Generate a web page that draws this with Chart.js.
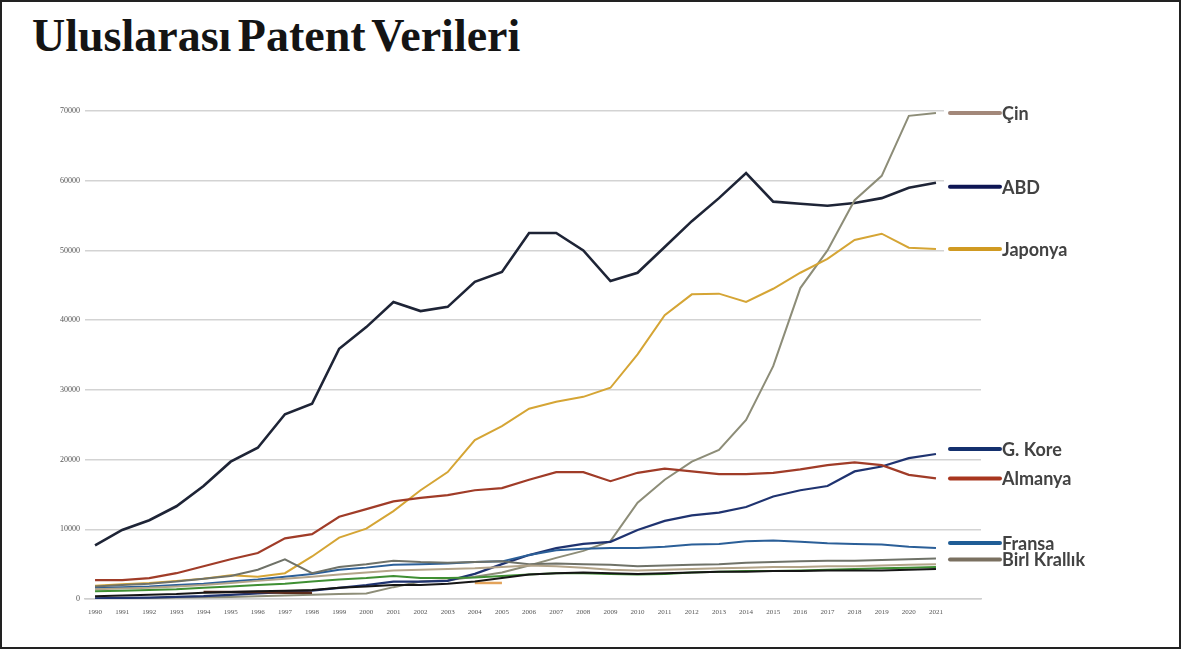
<!DOCTYPE html>
<html lang="tr">
<head>
<meta charset="utf-8">
<title>Uluslarası Patent Verileri</title>
<script src="https://cdn.jsdelivr.net/npm/chart.js@4/dist/chart.umd.min.js"></script>
<style>
  html, body { margin: 0; padding: 0; background: #fff; }
  body { width: 1181px; height: 649px; position: relative; overflow: hidden; }
  .cerceve {
    position: absolute; left: 0; top: 0; width: 1177px; height: 645px;
    border: 2px solid #222;
  }
  h1 {
    position: absolute; left: 32px; top: 9px; margin: 0;
    font: bold 46px 'Liberation Serif', serif; color: #141414;
    word-spacing: -5px;
  }
  #grafik { position: absolute; left: 0; top: 0; }
</style>
</head>
<body>
<div class="cerceve"></div>
<h1>Uluslarası Patent Verileri</h1>
<canvas id="grafik" width="1181" height="649"></canvas>
<script>
const yillar = [1990, 1991, 1992, 1993, 1994, 1995, 1996, 1997, 1998, 1999, 2000, 2001, 2002, 2003, 2004, 2005,
  2006, 2007, 2008, 2009, 2010, 2011, 2012, 2013, 2014, 2015, 2016, 2017, 2018, 2019, 2020, 2021]

const abd = [7700, 9900, 11300, 13300, 16200, 19700, 21700, 26500, 28000, 35900, 39000, 42600, 41300, 41900, 45500, 46900,
  52500, 52500, 50000, 45600, 46800, 50500, 54200, 57500, 61100, 57000, 56700, 56400, 56800, 57500, 59000, 59700]
const japonya = [1900, 2100, 2300, 2600, 2900, 3400, 3200, 3700, 6100, 8800, 10100, 12600, 15600, 18200, 22800, 24800,
  27300, 28300, 29000, 30300, 35100, 40700, 43700, 43800, 42600, 44500, 46800, 48800, 51500, 52400, 50400, 50200]
const cin = [100, 100, 150, 200, 250, 300, 400, 500, 600, 700, 800, 1700, 2500, 2700, 3200, 3800,
  4800, 5900, 6900, 8300, 13800, 17100, 19700, 21400, 25700, 33400, 44600, 50000, 57200, 60700, 69300, 69700]
const gKore = [100, 150, 200, 300, 400, 600, 800, 1000, 1200, 1600, 2000, 2500, 2500, 2600, 3600, 5000,
  6300, 7300, 7900, 8200, 9900, 11200, 12000, 12400, 13200, 14700, 15600, 16200, 18300, 19000, 20200, 20800]
const almanya = [2700, 2700, 3000, 3700, 4700, 5700, 6600, 8700, 9300, 11800, 12900, 14000, 14500, 14900, 15600, 15900,
  17100, 18200, 18200, 16900, 18100, 18700, 18300, 17900, 17900, 18100, 18600, 19200, 19600, 19200, 17800, 17300]
const fransa = [1600, 1700, 1800, 2000, 2200, 2500, 2800, 3200, 3600, 4200, 4500, 4900, 5000, 5100, 5300, 5400,
  6300, 7000, 7200, 7300, 7300, 7500, 7800, 7900, 8300, 8400, 8200, 8000, 7900, 7800, 7500, 7300]
const birlesikKrallik = [1800, 2000, 2200, 2500, 2900, 3300, 4200, 5700, 3700, 4600, 5000, 5500, 5300, 5200, 5300, 5400,
  5000, 5100, 5000, 4900, 4700, 4800, 4900, 5000, 5200, 5300, 5400, 5500, 5500, 5600, 5700, 5800]

// etiketsiz alt seriler
const hollanda = [1400, 1500, 1600, 1800, 2000, 2300, 2600, 2900, 3200, 3500, 3800, 4100, 4200, 4300, 4400, 4600,
  4800, 4700, 4500, 4200, 4100, 4200, 4300, 4400, 4500, 4600, 4600, 4700, 4700, 4800, 4900, 5000]
const isvicre = [1100, 1200, 1300, 1400, 1600, 1800, 2000, 2200, 2500, 2800, 3000, 3300, 3000, 3000, 3100, 3300,
  3500, 3700, 3700, 3600, 3500, 3600, 3800, 3900, 4000, 4000, 4100, 4200, 4300, 4400, 4500, 4600]
const isvec = [400, 500, 600, 700, 900, 1000, 1100, 1200, 1300, 1600, 1800, 2000, 2000, 2200, 2500, 3000,
  3500, 3700, 3800, 3700, 3600, 3700, 3800, 3900, 3900, 4000, 4000, 4100, 4100, 4100, 4200, 4300]
const kisaSeriA = [null, null, null, null, 1000, 1000, 1000, 900, 900, null, null, null, null, null, null, null,
  null, null, null, null, null, null, null, null, null, null, null, null, null, null, null, null]
const kisaSeriB = [null, null, null, null, null, null, null, null, null, null, null, null, null, null, 2300, 2300,
  null, null, null, null, null, null, null, null, null, null, null, null, null, null, null, null]

const yTikler = [0, 10000, 20000, 30000, 40000, 50000, 60000, 70000]

const noktalar = (dizi) => dizi.map((v, i) => ({ x: yillar[i], y: v }))

function seri(label, dizi, renk, genislik, ekstra) {
  return Object.assign({
    label: label,
    data: noktalar(dizi),
    borderColor: renk,
    borderWidth: genislik,
    pointRadius: 0,
    fill: false,
    tension: 0,
    spanGaps: false,
  }, ekstra || {})
}

// sağdaki etiketler: her serinin son değerinin hizasında
const yanEtiketler = {
  id: 'yanEtiketler',
  afterDatasetsDraw(chart) {
    const { ctx, chartArea, scales: { y } } = chart
    const x0 = chartArea.right - 31
    ctx.save()
    ctx.font = 'bold 18px Lato'
    ctx.textBaseline = 'middle'
    chart.data.datasets.forEach((ds) => {
      if (!ds.etiket) return
      const son = ds.data[ds.data.length - 1].y
      const yPx = y.getPixelForValue(son) + (ds.kaydir || 0)
      const w = ctx.measureText(ds.etiket).width
      ctx.fillStyle = '#fff'
      ctx.fillRect(x0 - 6, yPx - 9, 60 + w, 18)
      ctx.strokeStyle = ds.etiketRenk || ds.borderColor
      ctx.lineWidth = 4
      ctx.lineCap = 'round'
      ctx.beginPath()
      ctx.moveTo(x0, yPx)
      ctx.lineTo(x0 + 50, yPx)
      ctx.stroke()
      ctx.fillStyle = '#424242'
      ctx.fillText(ds.etiket, x0 + 52, yPx + 1)
    })
    ctx.restore()
  },
}

new Chart(document.getElementById('grafik'), {
  type: 'line',
  data: {
    datasets: [
      seri('İsveç', isvec, '#161616', 2),
      seri('İsviçre', isvicre, '#3f8f33', 2),
      seri('Hollanda', hollanda, '#b3a489', 2),
      seri('', kisaSeriA, '#5b2c1c', 2.5),
      seri('', kisaSeriB, '#e3a35a', 2.5),
      seri('Birl Krallık', birlesikKrallik, '#6f7268', 2, { etiket: 'Birl Krallık', etiketRenk: '#7a7060', kaydir: 1 }),
      seri('Fransa', fransa, '#2b5f98', 2, { etiket: 'Fransa', etiketRenk: '#1f5d96', kaydir: -5 }),
      seri('Almanya', almanya, '#a03c28', 2.2, { etiket: 'Almanya', etiketRenk: '#a8361f' }),
      seri('G. Kore', gKore, '#1f3370', 2.2, { etiket: 'G. Kore', etiketRenk: '#14306e', kaydir: -5 }),
      seri('Japonya', japonya, '#d5a535', 2, { etiket: 'Japonya', etiketRenk: '#d09a22' }),
      seri('Çin', cin, '#8d8d78', 2, { etiket: 'Çin', etiketRenk: '#a3887a' }),
      seri('ABD', abd, '#1e2436', 2.6, { etiket: 'ABD', etiketRenk: '#0e1654', kaydir: 4 }),
    ],
  },
  options: {
    responsive: false,
    animation: false,
    layout: { padding: { left: 0, right: 200, top: 111, bottom: 20 } },
    plugins: {
      legend: { display: false },
      tooltip: { enabled: false },
    },
    scales: {
      x: {
        type: 'linear',
        min: 1989.63,
        max: 2022.66,
        afterFit: (s) => { s.height = 30 },
        afterBuildTicks: (s) => { s.ticks = yillar.map((v) => ({ value: v })) },
        grid: { display: false, drawTicks: false },
        border: { display: true, color: '#cfcfcf', width: 1.5 },
        ticks: {
          autoSkip: false,
          maxRotation: 0,
          padding: 9,
          color: '#555',
          font: { family: 'Liberation Serif', size: 7 },
          callback: (v) => String(v),
        },
      },
      y: {
        min: 0,
        max: 70000,
        afterFit: (s) => { s.width = 85 },
        afterBuildTicks: (s) => { s.ticks = yTikler.map((v) => ({ value: v })) },
        grid: { color: '#d3d3d3', lineWidth: 1.5, drawTicks: false },
        border: { display: false },
        ticks: {
          padding: 5,
          color: '#555',
          font: { family: 'Liberation Serif', size: 8 },
          callback: (v) => String(v),
        },
      },
    },
  },
  plugins: [yanEtiketler],
})
</script>
</body>
</html>
